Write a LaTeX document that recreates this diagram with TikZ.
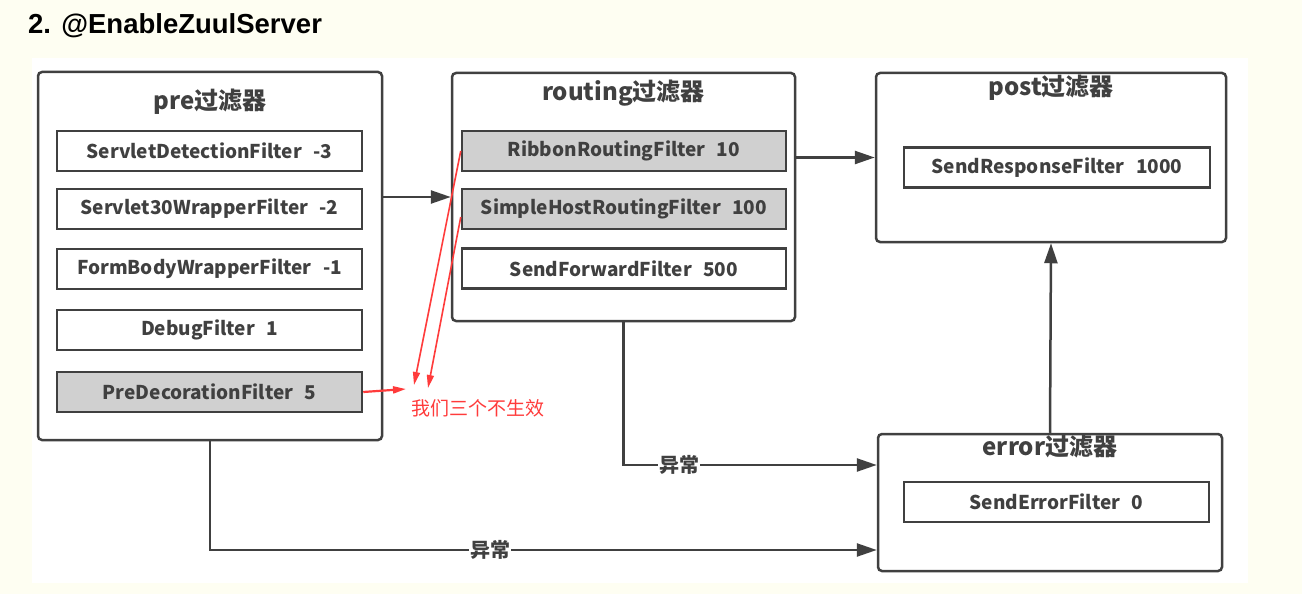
\documentclass[tikz,border=0pt]{standalone}
\usepackage{fontspec}
\setmainfont{Liberation Sans}
\newfontfamily\cjk{Noto Sans CJK SC}
\usetikzlibrary{arrows.meta}

\definecolor{linegray}{HTML}{404040}
\definecolor{offgray}{HTML}{D0D0D0}
\definecolor{pagecream}{HTML}{FEFEF2}
\definecolor{notered}{HTML}{FF3B3B}

\tikzset{
  stage/.style={draw=linegray, line width=2.5pt, rounded corners=4pt, fill=white, inner sep=0pt},
  filterbox/.style={draw=linegray, line width=2.5pt, fill=white, minimum height=40pt, inner sep=0pt,
    font=\cjk\bfseries\fontsize{19}{21}\selectfont, text=linegray},
  offbox/.style={filterbox, fill=offgray},
  stagetitle/.style={font=\cjk\bfseries\fontsize{24}{26}\selectfont, text=linegray},
  flow/.style={draw=linegray, line width=2.5pt, -{Triangle[length=20pt,width=13pt]}},
  redflow/.style={draw=notered, line width=1.6pt, -{Triangle[length=13pt,width=7pt]}},
  errlabel/.style={fill=white, inner sep=1pt, font=\cjk\bfseries\fontsize{20}{22}\selectfont, text=linegray}
}

\begin{document}
\begin{tikzpicture}[x=1pt, y=-1pt]
  % page and white panel
  \fill[pagecream] (0,0) rectangle (1302,594);
  \fill[white] (32,58) rectangle (1248,583);

  % heading
  \node[anchor=base west, inner sep=0pt, font=\bfseries\fontsize{27.5}{30}\selectfont] (head) at (28,34) {2. @EnableZuulServer};

  % pre stage
  \node[stage, minimum width=344pt, minimum height=368pt] (pre) at (210,256) {};
  \node[stagetitle] (pretitle) at (210,102) {pre过滤器};
  \node[filterbox, minimum width=305pt] (pre1) at (209.5,151) {ServletDetectionFilter\hspace{0.6em}-3};
  \node[filterbox, minimum width=305pt] (pre2) at (209.5,209) {Servlet30WrapperFilter\hspace{0.6em}-2};
  \node[filterbox, minimum width=305pt] (pre3) at (209.5,269) {FormBodyWrapperFilter\hspace{0.6em}-1};
  \node[filterbox, minimum width=305pt] (pre4) at (209.5,330) {DebugFilter\hspace{0.6em}1};
  \node[offbox, minimum width=305pt] (pre5) at (209.5,392) {PreDecorationFilter\hspace{0.6em}5};

  % routing stage
  \node[stage, minimum width=343pt, minimum height=248pt] (routing) at (623.5,197) {};
  \node[stagetitle] (routingtitle) at (623.5,93) {routing过滤器};
  \node[offbox, minimum width=324pt] (ribbon) at (624,151) {RibbonRoutingFilter\hspace{0.6em}10};
  \node[offbox, minimum width=324pt] (simplehost) at (624,209) {SimpleHostRoutingFilter\hspace{0.6em}100};
  \node[filterbox, minimum width=324pt] (forward) at (624,268.5) {SendForwardFilter\hspace{0.6em}500};

  % post stage
  \node[stage, minimum width=350pt, minimum height=169pt] (post) at (1051,157.5) {};
  \node[stagetitle] (posttitle) at (1051,88) {post过滤器};
  \node[filterbox, minimum width=306pt] (response) at (1057,167.5) {SendResponseFilter\hspace{0.6em}1000};

  % error stage
  \node[stage, minimum width=344pt, minimum height=137pt] (error) at (1050,502.5) {};
  \node[stagetitle] (errortitle) at (1050,447) {error过滤器};
  \node[filterbox, minimum width=305pt] (senderror) at (1056.5,502) {SendErrorFilter\hspace{0.6em}0};

  % flow between stages
  \draw[flow] (pre.east |- routing.west) -- (routing.west);
  \draw[flow] (routing.east |- post.west) -- (post.west);
  \draw[flow] (error.north) -- (post.south);
  \draw[flow] (routing.south) |- ([yshift=37.5pt]error.west) node[errlabel, pos=0.61] {异常};
  \draw[flow] (pre.south) |- ([yshift=-47.5pt]error.west) node[errlabel, pos=0.71] {异常};

  % red remark
  \node[text=notered, font=\cjk\fontsize{19}{21}\selectfont, inner sep=0pt] (remark) at (478,408) {我们三个不生效};
  \coordinate (tippre) at (406,389);
  \coordinate (tipribbon) at (414,385);
  \coordinate (tiphost) at (428,388);
  \draw[redflow, line width=2.2pt] (pre5.east) -- (tippre);
  \draw[redflow] (ribbon.west) -- (tipribbon);
  \draw[redflow] ([yshift=-8pt]simplehost.west) -- (tiphost);
\end{tikzpicture}
\end{document}
